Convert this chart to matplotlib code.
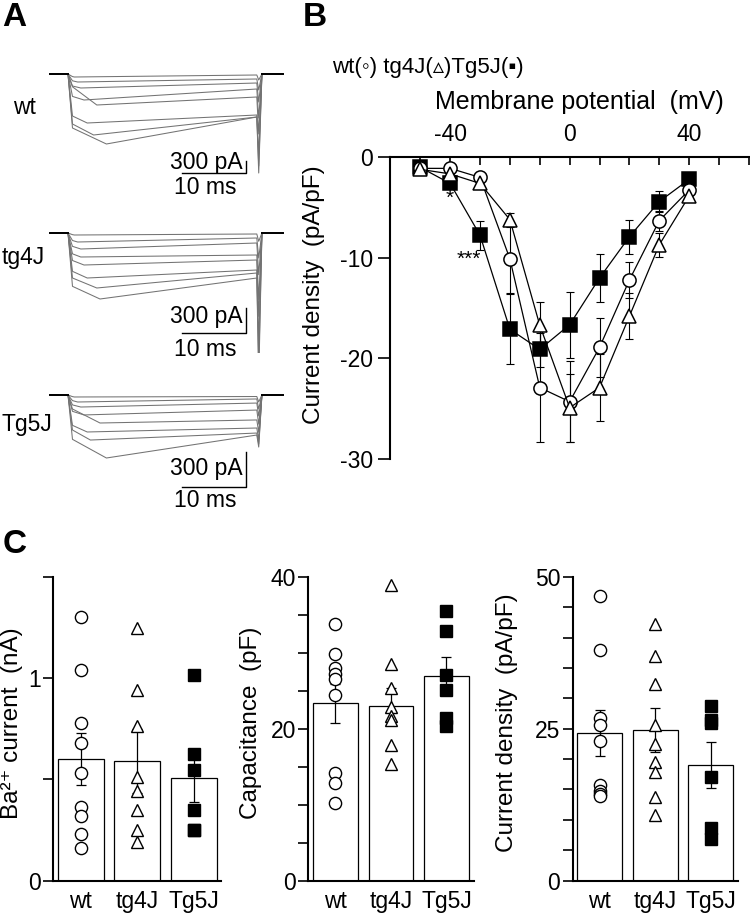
import matplotlib
matplotlib.use("Agg")
import matplotlib.pyplot as plt
import numpy as np

plt.rcParams['font.family'] = ['Liberation Sans', 'DejaVu Sans']
plt.rcParams['mathtext.default'] = 'regular'
plt.rcParams['axes.unicode_minus'] = False

# ---- A: whole-cell Ba2+ traces (pA), key points read per sweep ----------
PULSE_MS = 29.5
SCALE_MS, SCALE_PA = 10, 300

wt_tpeak = [1.0, 1.5, 2.0, 2.5, 4.5, 3.0, 4.0, 6.0]
wt_early = [-65, -170, -300, -560, -320, -1050, -1250, -1350]
wt_peak = [-75, -200, -350, -650, -775, -1225, -1525, -1750]
wt_end = [-25, -125, -225, -375, -575, -1025, -1075, -1075]
wt_tail = [-150, -400, -700, -1100, -1500, -2000, -2300, -2475]

tg4_tpeak = [1.0, 1.5, 2.0, 2.0, 2.5, 3.0, 4.5, 5.0]
tg4_early = [-20, -90, -160, -250, -330, -460, -540, -640]
tg4_peak = [-24, -108, -192, -288, -384, -540, -660, -792]
tg4_end = [-12, -60, -120, -264, -324, -444, -480, -540]
tg4_tail = [-100, -300, -500, -800, -1000, -1300, -1600, -1764]

tg5_tpeak = [1.0, 1.5, 2.0, 2.5, 5.0, 3.0, 3.5, 6.0]
tg5_early = [-14, -48, -85, -140, -120, -260, -300, -380]
tg5_peak = [-17, -60, -103, -171, -240, -317, -386, -540]
tg5_end = [-13, -34, -69, -129, -214, -283, -326, -343]
tg5_tail = [-60, -120, -180, -250, -320, -380, -420, -446]

# ---- B: I-V relation (pA/pF) --------------------------------------------
volt = [-50, -40, -30, -20, -10, 0, 10, 20, 30, 40]
wt_iv = [-1.1, -1.1, -2.0, -10.1, -22.9, -24.3, -18.9, -12.2, -6.3, -3.25]
wt_iv_sem = [0.2, 0.3, 0.4, 3.4, 5.4, 4.0, 2.9, 1.8, 1.0, 0.4]
tg4_iv = [-1.2, -1.65, -2.6, -6.2, -16.7, -24.9, -22.9, -15.8, -8.7, -3.85]
tg4_iv_sem = [0.2, 0.3, 0.4, 0.7, 2.3, 3.4, 3.3, 2.3, 1.2, 0.4]
tg5_iv = [-1.0, -2.6, -7.75, -17.1, -19.1, -16.65, -12.0, -7.9, -4.4, -2.2]
tg5_iv_sem = [0.2, 0.4, 1.45, 3.5, 1.8, 3.3, 2.4, 1.7, 1.0, 0.4]

# ---- C: per-cell values -------------------------------------------------
groups = ['wt', 'tg4J', 'Tg5J']

ba_wt = [1.30, 1.04, 0.78, 0.68, 0.53, 0.365, 0.32, 0.228, 0.16]
ba_tg4 = [1.25, 0.94, 0.765, 0.51, 0.44, 0.347, 0.252, 0.19]
ba_tg5 = [1.015, 0.624, 0.546, 0.348, 0.249, 0.25]
ba_mean = [0.60, 0.59, 0.506]
ba_sem = [0.13, 0.16, 0.12]

cap_wt = [33.8, 29.8, 28.0, 27.2, 26.6, 24.4, 14.2, 12.9, 10.2]
cap_tg4 = [38.9, 28.5, 25.4, 22.9, 21.7, 21.2, 17.8, 15.4]
cap_tg5 = [35.5, 32.9, 27.1, 25.1, 21.4, 20.3]
cap_mean = [23.36, 22.96, 26.98]
cap_sem = [2.6, 2.4, 2.5]

den_wt = [46.8, 38.0, 26.8, 25.7, 22.9, 15.7, 14.8, 14.3, 13.9]
den_tg4 = [42.3, 37.0, 32.3, 25.7, 22.5, 19.6, 17.9, 13.7, 10.8]
den_tg5 = [28.7, 26.4, 26.0, 17.1, 8.6, 6.9]
den_mean = [24.3, 24.8, 19.0]
den_sem = [3.8, 3.6, 3.8]

W, H = 750, 916
fig = plt.figure(figsize=(W / 100, H / 100), dpi=100)
FS = 16.5


def add_ax(x0, y0, x1, y1):
    return fig.add_axes([x0 / W, 1 - y1 / H, (x1 - x0) / W, (y1 - y0) / H])


def ftext(px, py, s, **kw):
    kw.setdefault('fontsize', FS)
    return fig.text(px / W, 1 - py / H, s, **kw)


T0_PX, PX_PER_MS = 68, 6.4


def trace_panel(base_py, gain, tpeak, early, peak, end, tail, bar_py):
    top, bot = base_py - 14, bar_py + 20
    ax = add_ax(40, top, 300, bot)
    ax.set_xlim((40 - T0_PX) / PX_PER_MS, (300 - T0_PX) / PX_PER_MS)
    ax.set_ylim(-(bot - base_py) * gain, (base_py - top) * gain)
    ax.axis('off')
    for tp, e1, pk, en, tl in zip(tpeak, early, peak, end, tail):
        t = [-2.8, 0, 0.7, tp, PULSE_MS, PULSE_MS + 0.3, PULSE_MS + 0.8, 33.6]
        y = [0, 0, e1, pk, en, tl, 0, 0]
        ax.plot(t, y, color='0.45', lw=0.75)
    ax.plot([-2.8, 0], [0, 0], color='k', lw=1.4)
    ax.plot([PULSE_MS + 0.8, 33.6], [0, 0], color='k', lw=1.4)
    xb = (246 - T0_PX) / PX_PER_MS
    yb = -(bar_py - base_py) * gain
    ax.plot([xb - SCALE_MS, xb, xb], [yb, yb, yb + SCALE_PA], color='k', lw=1.0)
    return ax


trace_panel(74, 25, wt_tpeak, wt_early, wt_peak, wt_end, wt_tail, 173)
trace_panel(233, 12, tg4_tpeak, tg4_early, tg4_peak, tg4_end, tg4_tail, 333)
trace_panel(395, 300 / 35, tg5_tpeak, tg5_early, tg5_peak, tg5_end, tg5_tail, 487)

for lab, py in (('wt', 107), ('tg4J', 258), ('Tg5J', 425)):
    ftext(13 if lab == 'wt' else 2, py, lab, va='center', ha='left')
for bar_py, up, dn in ((173, 10, 15), (333, 17, 17), (487, 18, 13)):
    ftext(243, bar_py - up, f'{SCALE_PA} pA', ha='right', va='center')
    ftext(205, bar_py + dn, f'{SCALE_MS} ms', ha='center', va='center')

# ---- B ------------------------------------------------------------------
axB = add_ax(390.4, 157.3, 748.9, 459)
axB.set_xlim(-60, 60)
axB.set_ylim(-30, 0)
for sp in ('bottom', 'right'):
    axB.spines[sp].set_visible(False)
for sp in ('top', 'left'):
    axB.spines[sp].set_linewidth(1.5)
axB.xaxis.tick_top()
xt = list(range(-60, 61, 10))
axB.set_xticks(xt)
axB.set_xticklabels([str(v) if v in (-40, 0, 40) else '' for v in xt])
axB.tick_params(axis='x', direction='in', length=6, width=1.2, pad=8, labelsize=FS)
axB.set_yticks([0, -10, -20, -30])
axB.tick_params(axis='y', direction='out', length=8.5, width=1.2, pad=4, labelsize=FS)
axB.xaxis.set_label_position('top')
axB.set_xlabel('Membrane potential  (mV)', fontsize=FS + 1.5)
axB.xaxis.set_label_coords(0.526, 1.183)
axB.xaxis.label.set_va('center')
axB.set_ylabel('Current density  (pA/pF)', fontsize=FS + 1)
axB.yaxis.set_label_coords(-0.213, 0.544)
axB.yaxis.label.set_va('center')

series = [
    (tg5_iv, tg5_iv_sem, dict(marker='s', mfc='k', mec='k')),
    (wt_iv, wt_iv_sem, dict(marker='o', mfc='white', mec='k')),
    (tg4_iv, tg4_iv_sem, dict(marker='^', mfc='white', mec='k')),
]
for m, s, st in series:
    axB.errorbar(volt, m, yerr=s, fmt='none', ecolor='k', elinewidth=0.8,
                 capsize=3, capthick=0.8, zorder=2, clip_on=False)
for m, s, st in series:
    axB.plot(volt, m, color='k', lw=0.9, ms=9.5, mew=1.1, zorder=3, clip_on=False, **st)
axB.text(-40, -4.1, '*', ha='center', va='center', fontsize=15)
axB.text(-33.6, -10.1, '***', ha='center', va='center', fontsize=15)

ftext(332, 68, 'wt(\u25e6) tg4J(\u25b5)Tg5J(\u25aa)', ha='left', va='center', fontsize=FS - 0.5)

# ---- C ------------------------------------------------------------------
marks = [dict(marker='o', mfc='white'), dict(marker='^', mfc='white'), dict(marker='s', mfc='k')]


def bar_panel(x0, spacing, ymax, step, shown, ylabel, lab_px, pts, means, sems):
    ax = add_ax(x0, 577, x0 + 2.98 * spacing, 880.5)
    ax.set_xlim(-0.49, 2.49)
    ax.set_ylim(0, ymax)
    for sp in ('top', 'right'):
        ax.spines[sp].set_visible(False)
    for sp in ('left', 'bottom'):
        ax.spines[sp].set_linewidth(1.5)
    x = np.arange(3)
    ax.bar(x, means, width=0.81, color='white', edgecolor='k', lw=0.9, zorder=1)
    ax.errorbar(x, means, yerr=sems, fmt='none', ecolor='k', elinewidth=0.9,
                capsize=3.5, capthick=0.9, zorder=2)
    for i, vals in enumerate(pts):
        ax.plot(np.full(len(vals), i), vals, ls='none', ms=8.8, mec='k', mew=1.0,
                zorder=3, clip_on=False, **marks[i])
    yt = np.arange(0, ymax + step / 2, step)
    ax.set_yticks(yt)
    ax.set_yticklabels([f'{v:g}' if v in shown else '' for v in yt])
    ax.tick_params(axis='y', direction='out', length=7, width=1.2, pad=2, labelsize=FS)
    ax.set_xticks(x)
    ax.set_xticklabels(groups)
    ax.tick_params(axis='x', length=0, pad=7, labelsize=FS)
    ax.set_ylabel(ylabel, fontsize=FS + 1)
    ax.yaxis.set_label_coords((lab_px - x0) / (2.98 * spacing), (880.5 - 723) / 303.5)
    ax.yaxis.label.set_va('center')
    return ax


bar_panel(53, 56.5, 1.5, 0.5, (0, 1), 'Ba\u00b2\u207a current  (nA)', 12,
          [ba_wt, ba_tg4, ba_tg5], ba_mean, ba_sem)
bar_panel(308.3, 55.5, 40, 5, (0, 20, 40), 'Capacitance  (pF)', 251,
          [cap_wt, cap_tg4, cap_tg5], cap_mean, cap_sem)
bar_panel(572.7, 55.5, 50, 5, (0, 25, 50), 'Current density  (pA/pF)', 507,
          [den_wt, den_tg4, den_tg5], den_mean, den_sem)

for lab, px, py in (('A', 2, 2), ('B', 303, 2), ('C', 3, 529)):
    ftext(px, py, lab, ha='left', va='top', fontsize=24, fontweight='bold')

fig.savefig('out.png', dpi=100)
